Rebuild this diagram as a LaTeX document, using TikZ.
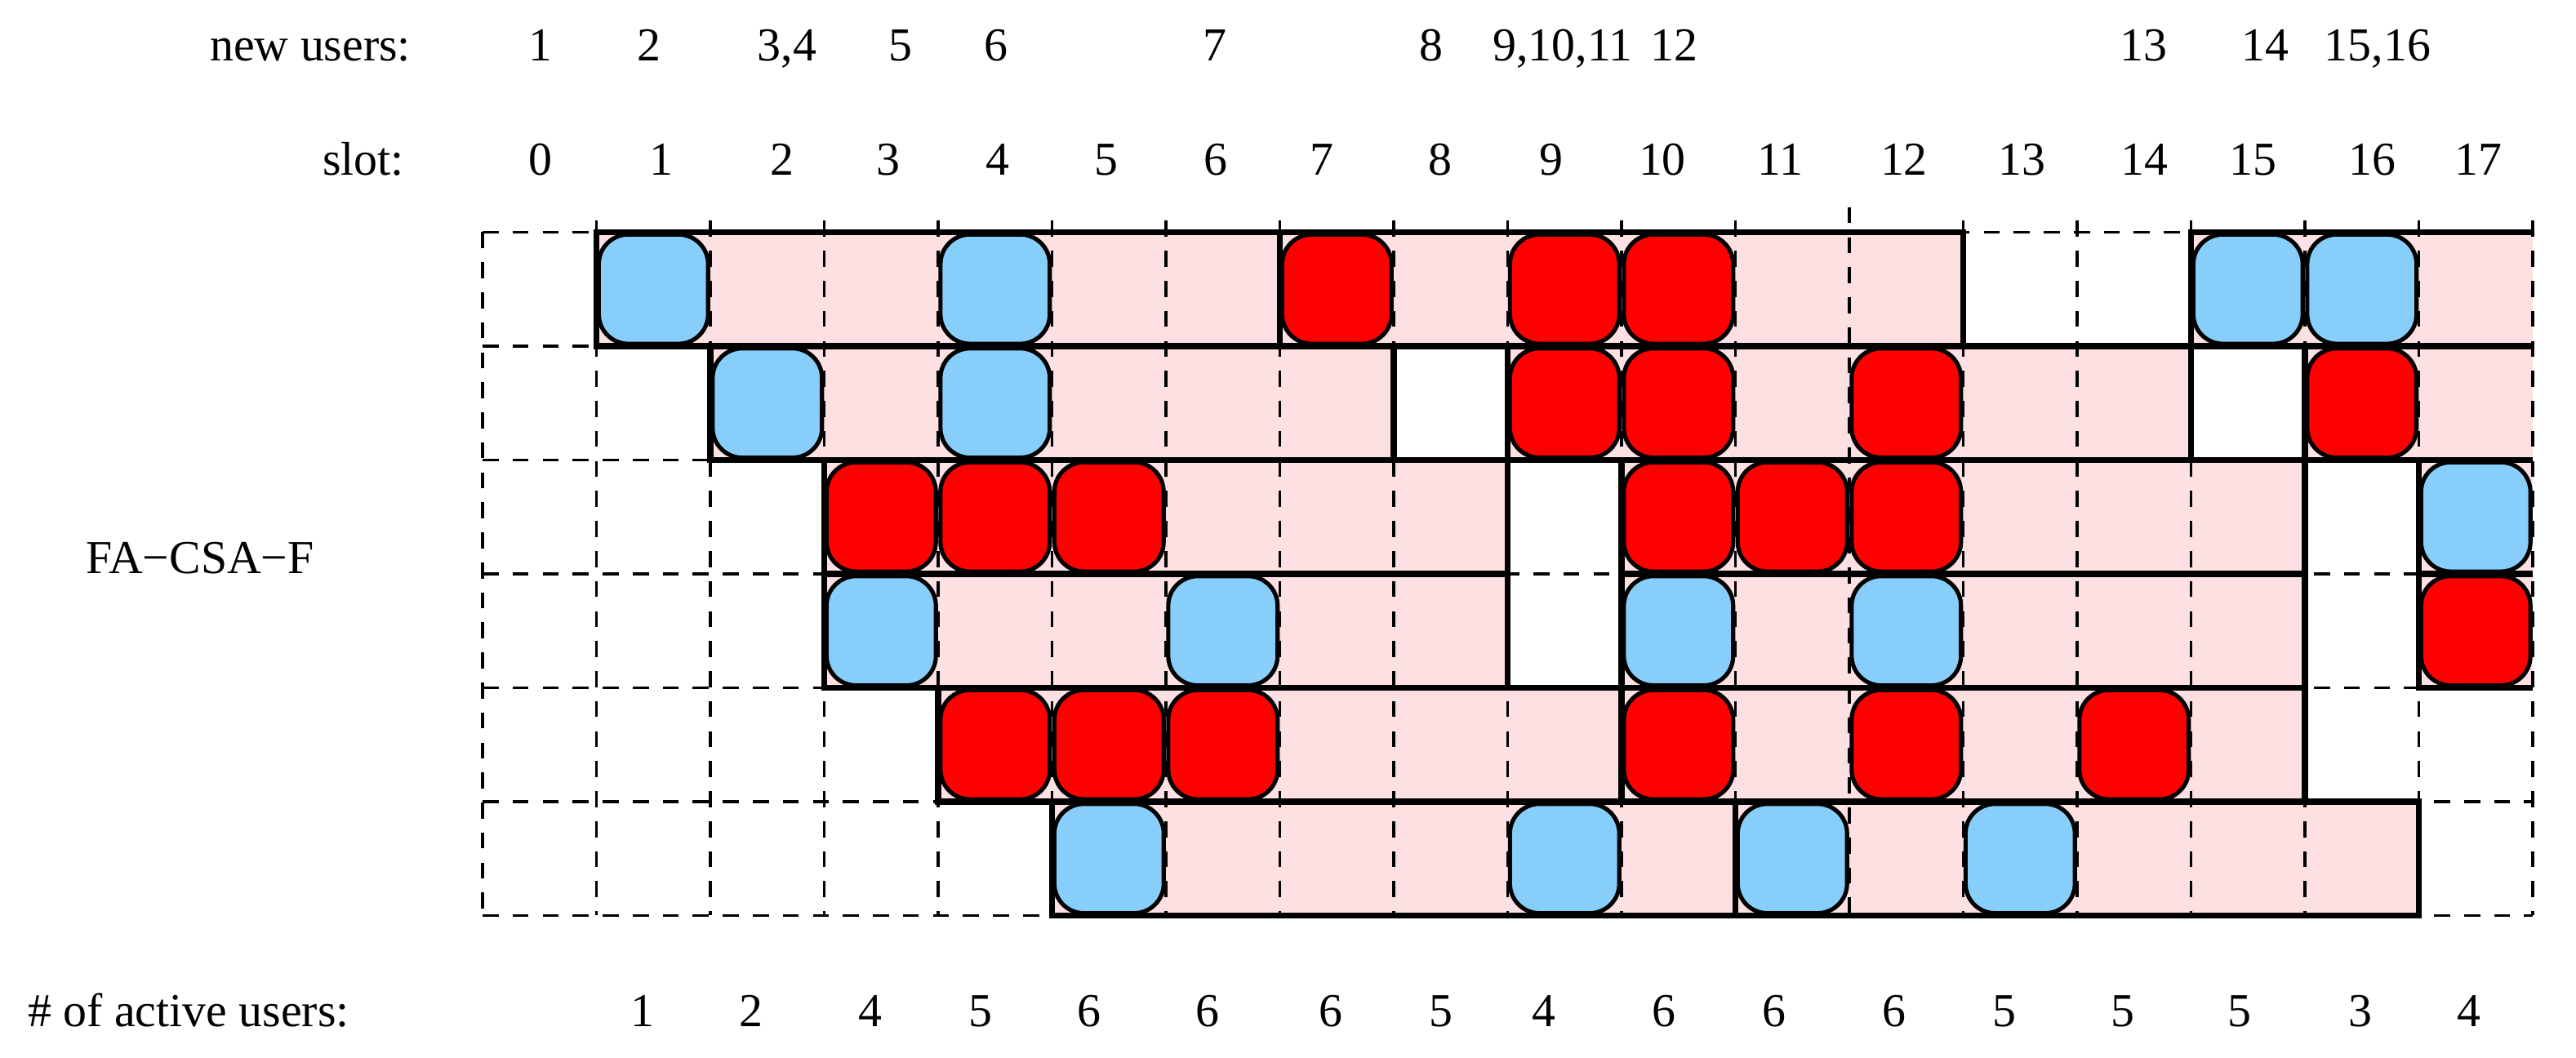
\documentclass[tikz,border=0pt]{standalone}
\usepackage{fontspec}
\setmainfont{Liberation Serif}
\definecolor{pinkfill}{RGB}{253,224,225}
\definecolor{okblue}{RGB}{135,206,250}
\definecolor{colred}{RGB}{255,0,0}
\begin{document}
\begin{tikzpicture}[x=1cm,y=1cm,
  lbl/.style={font=\rmfamily\fontsize{11.8}{14}\selectfont, inner sep=0pt, anchor=base},
  lblw/.style={lbl, anchor=base west},
  dashgrid/.style={line width=0.7pt, dash pattern=on 4pt off 3.5pt},
  thickbox/.style={line width=1.5pt, line join=miter},
  slotbox/.style={line width=1.05pt, rounded corners=0.26cm},
  bluebox/.style={slotbox, fill=okblue},
  redbox/.style={slotbox, fill=colred}]
\useasboundingbox (-4.237,2.039) rectangle (18.380,-7.251);

% pink frames (closed: x1/x2/row ; open ones run to x=18)
\foreach \a/\b/\r in {1/7/1,7/13/1,15/18/1,2/8/2,9/15/2,16/18/2,3/9/3,10/16/3,17/18/3,3/9/4,10/16/4,17/18/4,4/10/5,10/16/5,5/11/6,11/17/6}
  \fill[pinkfill] (\a,{-(\r-1)}) rectangle (\b,-\r);

% dashed grid
\foreach \y in {0,...,6}
  \draw[dashgrid] (0,-\y) -- (18,-\y);
\draw[dashgrid] (0,0) -- (0,-6);
\foreach \x in {1,...,11,13,14,15,16,17,18}
  \draw[dashgrid] (\x,0.1) -- (\x,-6);
\draw[dashgrid] (12,0.22) -- (12,-6);

% closed frames
\foreach \a/\b/\r in {1/7/1,7/13/1,2/8/2,9/15/2,3/9/3,10/16/3,3/9/4,10/16/4,4/10/5,10/16/5,5/11/6,11/17/6}
  \draw[thickbox] (\a,{-(\r-1)}) rectangle (\b,-\r);
% frames open to the right
\foreach \a/\r in {15/1,16/2,17/3,17/4}
  \draw[thickbox] (18,{-(\r-1)}) -- (\a,{-(\r-1)}) -- (\a,-\r) -- (18,-\r);

% successful (blue) slots
\foreach \c/\r in {1/1,4/1,15/1,16/1,2/2,4/2,17/3,3/4,6/4,10/4,12/4,5/6,9/6,11/6,13/6}
  \draw[bluebox] ({\c+0.02},{-(\r-1)-0.02}) rectangle ({\c+0.98},{-\r+0.02});
% collided (red) slots
\foreach \c/\r in {7/1,9/1,10/1,9/2,10/2,12/2,16/2,3/3,4/3,5/3,10/3,11/3,12/3,17/4,4/5,5/5,6/5,10/5,12/5,14/5}
  \draw[redbox] ({\c+0.02},{-(\r-1)-0.02}) rectangle ({\c+0.98},{-\r+0.02});

% labels
\node[lblw] (newusers) at (-2.40,1.502) {new users:};
\node[lblw] (slotlbl) at (-1.41,0.500) {slot:};
\node[lblw] (scheme) at (-3.49,-2.998) {FA−CSA−F};
\node[lblw] (active) at (-4.00,-6.979) {\# of active users:};

\foreach \x/\t [count=\i] in {0.509/1,1.462/2,2.674/{3,4},3.670/5,4.509/6,6.430/7,8.330/8,9.484/{9,10,11},10.459/12,14.581/13,15.649/14,16.638/{15,16}}
  \node[lbl] (nu\i) at (\x,1.502) {\t};

\foreach \x/\t in {0.509/0,1.570/1,2.631/2,3.563/3,4.523/4,5.477/5,6.437/6,7.369/7,8.409/8,9.384/9,10.358/10,11.391/11,12.480/12,13.513/13,14.588/14,15.541/15,16.588/16,17.520/17}
  \node[lbl] (slot\t) at (\x,0.500) {\t};

\foreach \x/\t [count=\i] in {1.405/1,2.358/2,3.405/4,4.373/5,5.326/6,6.366/6,7.448/6,8.416/5,9.319/4,10.373/6,11.341/6,12.394/6,13.362/5,14.401/5,15.426/5,16.487/3,17.441/4}
  \node[lbl] (act\i) at (\x,-6.979) {\t};
\end{tikzpicture}
\end{document}
